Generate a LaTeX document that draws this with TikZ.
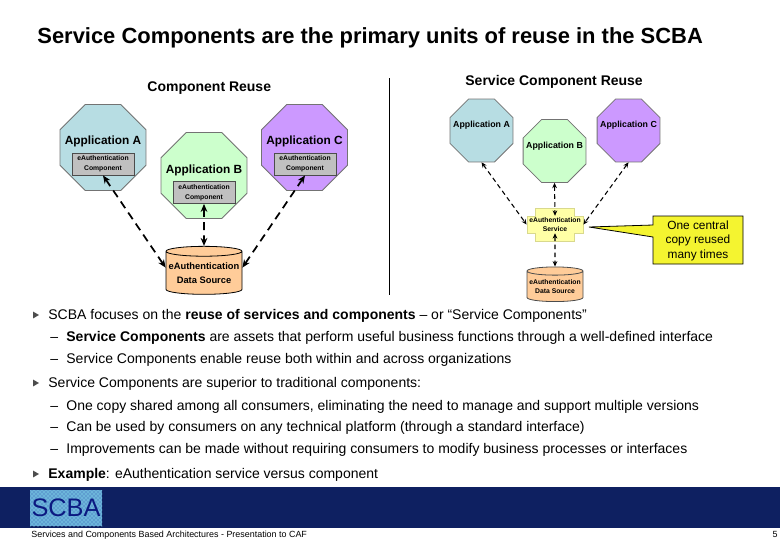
\documentclass[tikz,border=0pt]{standalone}
\usepackage{fontspec}
\setmainfont{Liberation Sans}
\usetikzlibrary{arrows.meta}
\usetikzlibrary{patterns}
\usetikzlibrary{shapes.geometric}
\definecolor{c1}{HTML}{B7DDE3}
\definecolor{c2}{HTML}{CCFFCC}
\definecolor{c3}{HTML}{CC99FF}
\definecolor{c4}{HTML}{FFCC99}
\definecolor{c5}{HTML}{FFFFA6}
\definecolor{c6}{HTML}{F4F430}
\definecolor{c7}{HTML}{0E2061}
\definecolor{c8}{HTML}{5F9FD0}
\definecolor{c9}{HTML}{C0C0C0}
\newcommand{\fsz}[1]{\fontsize{#1}{#1}\selectfont}
\tikzset{
  app_big/.style={regular polygon, regular polygon sides=8, draw=black!55, minimum size=69.8pt, inner sep=0pt},
  app_small/.style={regular polygon, regular polygon sides=8, draw=black!55, minimum size=51pt, inner sep=0pt},
  label_big/.style={font=\fsz{8.9}\bfseries, inner sep=0pt},
  label_small/.style={font=\fsz{6.6}\bfseries, inner sep=0pt},
  comp_box/.style={rectangle, draw=black!70, fill=c9, minimum width=46.5pt, minimum height=16.5pt, inner sep=0pt, align=center, font=\fontsize{5.1}{7.2}\selectfont\bfseries},
  db_big/.style={cylinder, shape border rotate=90, shape aspect=0.14, draw=black, fill=c4, minimum width=57pt, minimum height=36pt, inner sep=0pt, align=center, font=\fontsize{7}{10}\selectfont\bfseries},
  db_small/.style={cylinder, shape border rotate=90, shape aspect=0.16, draw=black!70, fill=c4, minimum width=42pt, minimum height=26pt, inner sep=0pt, align=center, font=\fontsize{5.1}{7.2}\selectfont\bfseries},
  svc_text/.style={rectangle, minimum width=42pt, minimum height=12.5pt, inner sep=0pt, align=center, font=\fontsize{5.1}{7.2}\selectfont\bfseries},
  edge_big/.style={{Stealth[length=6pt,width=5pt]}-{Stealth[length=6pt,width=5pt]}, line width=1.3pt, dash pattern=on 6pt off 4pt},
  edge_small/.style={{Stealth[length=4pt,width=3.5pt]}-{Stealth[length=4pt,width=3.5pt]}, line width=0.8pt, dash pattern=on 3.5pt off 2.5pt},
  head/.style={anchor=base west, inner sep=0pt, font=\fsz{10.5}\bfseries},
  line_main/.style={anchor=base west, inner sep=0pt, font=\fsz{10.5}},
  tri/.style={regular polygon, regular polygon sides=3, shape border rotate=-90, fill=black!70, minimum size=6pt, inner sep=0pt},
}

\begin{document}
\begin{tikzpicture}[x=0.75pt, y=-0.75pt]
    \useasboundingbox (0,0) rectangle (780,540);
    \pgfsetlinewidth{0.6pt}

    \node[anchor=base west, inner sep=0pt, font=\fsz{16.45}\bfseries] (title) at (37,43.5) {Service Components are the primary units of reuse in the SCBA};

    \node[head] (headl) at (147,91) {Component Reuse};

    \node[head] (headr) at (465,85) {Service Component Reuse};

    \coordinate (divt) at (389,78);
    \coordinate (divb) at (389,295);
    \draw (divt) -- (divb);

    % left side
    \node[app_big, fill=c1] (appa) at (103,147.5){};

    \node[app_big, fill=c2] (appb) at (204,175.5){};

    \node[app_big, fill=c3] (appc) at (304.5,147.5){};

    \node[label_big] (laba) at (103,141.5) {Application A};

    \node[label_big] (labb) at (204,170) {Application B};

    \node[label_big] (labc) at (304.5,141.5) {Application C};

    \node[comp_box] (boxa) at (103,164) {eAuthentication\\Component};

    \node[comp_box] (boxb) at (204,192.5) {eAuthentication\\Component};

    \node[comp_box] (boxc) at (305,164) {eAuthentication\\Component};

    \node[db_big] (dbl) at (204,273) {eAuthentication\\Data Source};

    \draw[edge_big] (boxa.south) -- (dbl.172);
    \draw[edge_big] (boxb.south) -- (dbl.north);
    \draw[edge_big] (boxc.south) -- (dbl.8);

    % right side
    \node[app_small, fill=c1] (appra) at (481.5,130.5){};

    \node[app_small, fill=c2] (apprb) at (554.5,151){};

    \node[app_small, fill=c3] (apprc) at (628.5,130.5){};

    \node[label_small] (labra) at (481.5,125.5) {Application A};

    \node[label_small] (labrb) at (554.5,146) {Application B};

    \node[label_small] (labrc) at (628.5,125.5) {Application C};

    \fill[c5, draw=c5!85!black, line width=0.3pt] (535,208) -- (574,208) -- (574,216) -- (583,216) -- (583,233) -- (574,233) -- (574,241) -- (535,241) -- (535,233) -- (527,233) -- (527,216) -- (535,216) -- cycle;
    \node[svc_text] (svc) at (555,224.5) {eAuthentication\\Service};

    \node[db_small] (dbr) at (555,286.5) {eAuthentication\\Data Source};

    \draw[edge_small] (appra.south) -- (svc.west);
    \draw[edge_small] (apprb.south) -- (svc.north);
    \draw[edge_small] (apprc.south) -- (svc.east);
    \draw[edge_small] (svc.south) -- (dbr.north);

    % callout
    \draw[fill=c6, line width=0.6pt] (653,216) -- (743,216) -- (743,264) -- (653,264) -- (653,237) -- (589,227) -- (653,225) -- cycle;
    \node[align=center, inner sep=0pt, font=\fontsize{8.9}{10.9}\selectfont] (note) at (698,240.5) {One central\\copy reused\\many times};

    % text lines
    \foreach \y [count=\i] in {315,383,474}
        \node[tri] (tri\i) at (35,\y){};

    \foreach \y [count=\i] in {341.5,363.5,410.5,431.5,453.5}
        \node[line_main] (dash\i) at (50,\y) {–};

    \node[line_main] (main1) at (48,319.5) {SCBA focuses on the \textbf{reuse of services and components} – or “Service Components”};
    \node[line_main] (sub1) at (66,341.5) {\textbf{Service Components} are assets that perform useful business functions through a well-defined interface};
    \node[line_main] (sub2) at (66,363.5) {Service Components enable reuse both within and across organizations};
    \node[line_main] (main2) at (48,387.5) {Service Components are superior to traditional components:};
    \node[line_main] (sub3) at (66,410.5) {One copy shared among all consumers, eliminating the need to manage and support multiple versions};
    \node[line_main] (sub4) at (66,431.5) {Can be used by consumers on any technical platform (through a standard interface)};
    \node[line_main] (sub5) at (66,453.5) {Improvements can be made without requiring consumers to modify business processes or interfaces};
    \node[line_main] (main3) at (48,478.5) {\textbf{Example}: eAuthentication service versus component};

    % footer
    \fill[c7] (0,486.5) rectangle (780,528);
    \node[rectangle, fill=c8, postaction={pattern=crosshatch dots, pattern color=cyan!40}, minimum width=54pt, minimum height=27pt, inner sep=0pt, text=c7!80!blue, font=\fsz{19}] (logo) at (66,508) {SCBA};

    \node[anchor=base west, inner sep=0pt, font=\fsz{6.7}] (foot) at (31,537.5) {Services and Components Based Architectures - Presentation to CAF};
    \node[anchor=base east, inner sep=0pt, font=\fsz{6.7}] (page) at (778,537.5) {5};

  \end{tikzpicture}
\end{document}
